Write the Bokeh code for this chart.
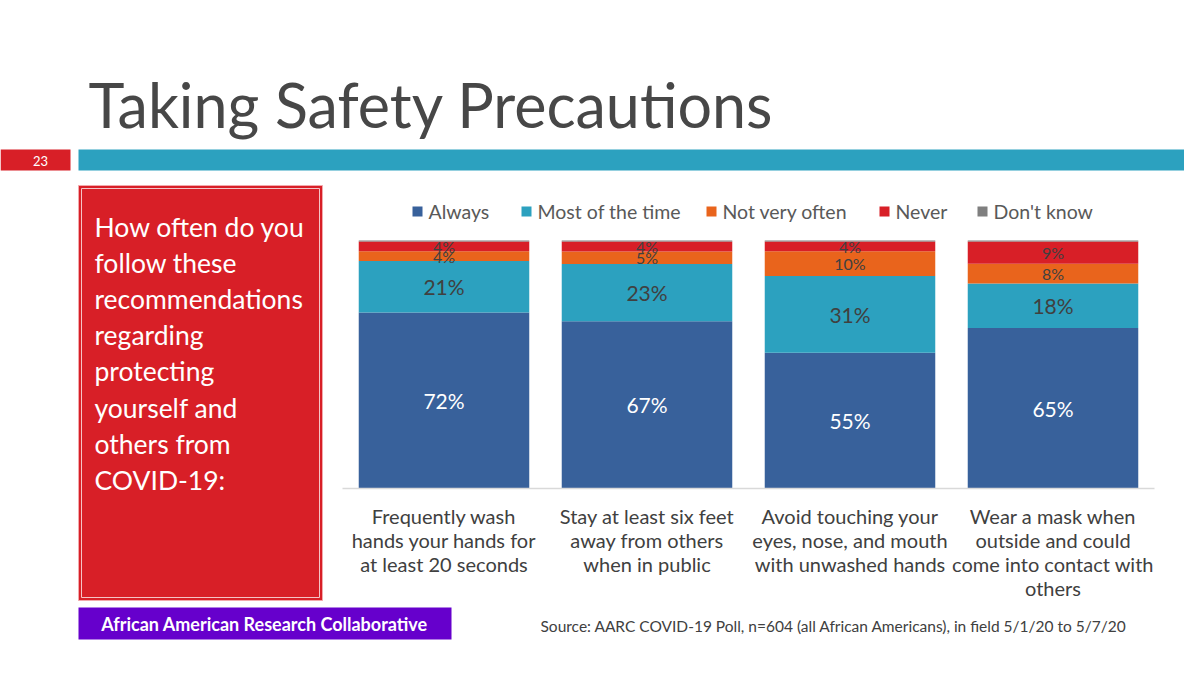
from bokeh.plotting import figure
from bokeh.models import Range1d, ColumnDataSource
from bokeh.core.properties import value
from bokeh.embed import file_html
from bokeh.resources import INLINE

# ---------------- data ----------------
categories = [
    "Frequently wash\nhands your hands for\nat least 20 seconds",
    "Stay at least six feet\naway from others\nwhen in public",
    "Avoid touching your\neyes, nose, and mouth\nwith unwashed hands",
    "Wear a mask when\noutside and could\ncome into contact with\nothers",
]
series = ["Always", "Most of the time", "Not very often", "Never", "Don't know"]
always = [72, 67, 55, 65]
most_of_the_time = [21, 23, 31, 18]
not_very_often = [4, 5, 10, 8]
never = [4, 4, 4, 9]
dont_know = [0.4, 0.4, 0.4, 0.4]

title_text = "Taking Safety Precautions"
slide_number = "23"
question_lines = ["How often do you", "follow these", "recommendations", "regarding",
                  "protecting", "yourself and", "others from", "COVID-19:"]
org_name = "African American Research Collaborative"
source_text = "Source: AARC COVID-19 Poll, n=604 (all African Americans), in field 5/1/20 to 5/7/20"

# ---------------- styles ----------------
colors = ["#38619B", "#2CA1BF", "#E9641C", "#D81F27", "#7F7F7F"]
FONT = "Lato"
DARK = "#404040"
W, H = 1184, 659
# pixel positions of the chart frame
BAR_C0, BAR_STEP = 443.5, 203.0
Y0, PX_PER_PCT = 488.0, 2.48

p = figure(width=W, height=H, output_backend="svg", toolbar_location=None,
           x_axis_location=None, y_axis_location=None, min_border=0,
           x_range=Range1d((0 - BAR_C0) / BAR_STEP, (W - BAR_C0) / BAR_STEP),
           y_range=Range1d((Y0 - H) / PX_PER_PCT, Y0 / PX_PER_PCT))
p.outline_line_color = None
p.grid.visible = False
p.background_fill_color = "white"
p.border_fill_color = "white"
p.extra_x_ranges = {"px": Range1d(0, W)}
p.extra_y_ranges = {"py": Range1d(H, 0)}

# ---------------- bars ----------------
raw = [always, most_of_the_time, not_very_often, never, dont_know]
n = len(categories)
totals = [sum(r[i] for r in raw) for i in range(n)]
data = {"x": list(range(n))}
for name, vals in zip(series, raw):
    data[name] = [v / t * 100 for v, t in zip(vals, totals)]
src = ColumnDataSource(data)
p.vbar_stack(series, x="x", width=0.84, color=colors, line_color=None, source=src)

# axis line
p.segment(x0=[-0.5], x1=[n - 0.5], y0=[0], y1=[0], line_color="#D9D9D9", line_width=1.5)

# value labels
lx, ly, lt, lc, ls = [], [], [], [], []
for si in range(4):
    for i in range(n):
        base = sum(data[series[k]][i] for k in range(si))
        v = data[series[si]][i]
        lx.append(i)
        ly.append(base + v / 2)
        lt.append(f"{raw[si][i]}%")
        lc.append("white" if si == 0 else DARK)
        ls.append("21px" if raw[si][i] >= 15 else "16px")
p.text(x=lx, y=ly, text=lt, text_color=lc, text_font_size=ls,
       text_align="center", text_baseline="middle", text_font=value(FONT))

# category labels
p.text(x=list(range(n)), y=[503] * n, y_range_name="py", text=categories,
       text_align="center", text_baseline="top", text_font=value(FONT),
       text_font_size="20px", text_color=DARK, text_line_height=1.0)

# legend (manual, horizontal)
leg_sq_x = [417, 526, 711, 884, 982]
p.rect(x=leg_sq_x, y=[211] * 5, width=10, height=10, x_range_name="px", y_range_name="py",
       fill_color=colors, line_color=None)
p.text(x=[x + 11 for x in leg_sq_x], y=[211] * 5, text=series, x_range_name="px", y_range_name="py",
       text_align="left", text_baseline="middle", text_font=value(FONT),
       text_font_size="19.5px", text_color="#595959")

# ---------------- slide decorations ----------------
# title
p.text(x=[88], y=[104], text=[title_text], x_range_name="px", y_range_name="py",
       text_align="left", text_baseline="middle", text_font=value(FONT),
       text_font_size="61px", text_color="#474747")
# header bars
p.quad(left=[0, 78], right=[70, 1200], top=[149, 149], bottom=[170, 170],
       x_range_name="px", y_range_name="py", fill_color=["#D81F27", "#2CA1BF"], line_color=None)
p.text(x=[40], y=[160], text=[slide_number], x_range_name="px", y_range_name="py",
       text_align="center", text_baseline="middle", text_font=value(FONT),
       text_font_size="13px", text_color="white")
# question box
p.quad(left=[78], right=[322], top=[185], bottom=[600], x_range_name="px", y_range_name="py",
       fill_color="#D81F27", line_color="#F2A9AC", line_width=1)
p.quad(left=[81], right=[319], top=[188], bottom=[597], x_range_name="px", y_range_name="py",
       fill_color=None, line_color="#F5C4C6", line_width=1)
p.text(x=[94] * len(question_lines), y=[226 + 36.2 * k for k in range(len(question_lines))],
       text=question_lines, x_range_name="px", y_range_name="py",
       text_align="left", text_baseline="middle", text_font=value(FONT),
       text_font_size="26.5px", text_color="white")
# organisation box
p.quad(left=[78], right=[451], top=[607], bottom=[639], x_range_name="px", y_range_name="py",
       fill_color="#6600CC", line_color=None)
p.text(x=[264], y=[623], text=[org_name], x_range_name="px", y_range_name="py",
       text_align="center", text_baseline="middle", text_font=value(FONT),
       text_font_size="18px", text_font_style="bold", text_color="white")
# source
p.text(x=[540], y=[625], text=[source_text], x_range_name="px", y_range_name="py",
       text_align="left", text_baseline="middle", text_font=value(FONT),
       text_font_size="15.5px", text_color=DARK)

open("out.html", "w").write(file_html(p, INLINE))
